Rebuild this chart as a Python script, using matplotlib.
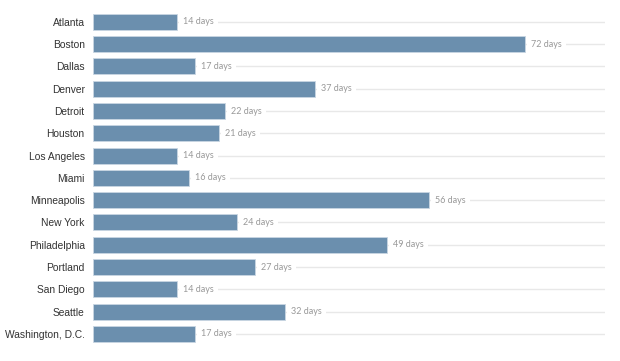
import matplotlib
matplotlib.use("Agg")
import matplotlib.pyplot as plt

cities = ["Atlanta", "Boston", "Dallas", "Denver", "Detroit", "Houston",
          "Los Angeles", "Miami", "Minneapolis", "New York", "Philadelphia",
          "Portland", "San Diego", "Seattle", "Washington, D.C."]
days = [14, 72, 17, 37, 22, 21, 14, 16, 56, 24, 49, 27, 14, 32, 17]

fig = plt.figure(figsize=(6.2, 3.61), dpi=100)
ax = fig.add_axes([0.15, 0.0443, 0.826, 0.926])

y = list(range(len(cities)))
for yi in y:
    ax.axhline(yi, color="#e8e8e8", lw=1, zorder=0)
ax.barh(y, days, height=0.72, color="#6b8fae", edgecolor="#c9d6e2",
        linewidth=0.6, zorder=2)

for yi, d in zip(y, days):
    ax.text(d + 1.0, yi, f"{d} days", va="center", ha="left", fontsize=6.5,
            color="#999999", family=["Lato", "DejaVu Sans"], zorder=3,
            bbox=dict(facecolor="white", edgecolor="none", pad=3))

ax.set_yticks(y)
ax.set_yticklabels(cities, family=["Liberation Sans Narrow", "Liberation Sans", "DejaVu Sans"],
                   fontsize=7.4, color="#333333")
ax.tick_params(axis="y", length=0, pad=6)
ax.set_xticks([])
ax.set_xlim(0, 85.3)
ax.set_ylim(14.5, -0.5)
for s in ax.spines.values():
    s.set_visible(False)

fig.savefig("out.png", dpi=100)
